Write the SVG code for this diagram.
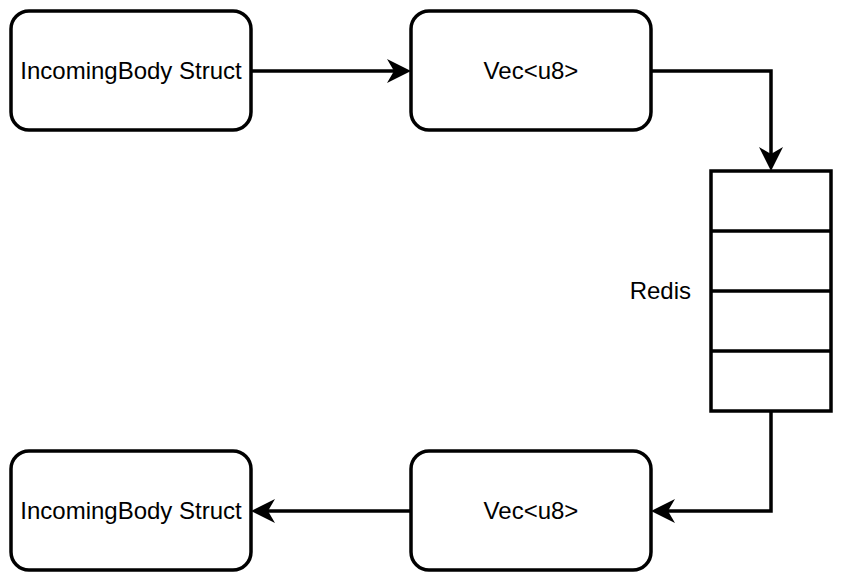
<svg xmlns="http://www.w3.org/2000/svg" width="842" height="580" viewBox="0 0 842 580">
<style>
.box{fill:#fff;stroke:#000;stroke-width:3.5}
.lbl{font-family:"Liberation Sans",Arial,Helvetica,sans-serif;font-size:24px;fill:#000}
.edge{fill:none;stroke:#000;stroke-width:3.5}
</style>
<defs>
<marker id="arr" markerUnits="userSpaceOnUse" viewBox="-25 -13 27 26" markerWidth="27" markerHeight="26" refX="-17" refY="0" orient="auto">
<path d="M0,0 L-24,-12 L-17,0 L-24,12 Z" fill="#000"/>
</marker>
</defs>
<rect width="842" height="580" fill="#fff"/>
<g id="connectors">
<path class="edge" d="M251,71 H394" marker-end="url(#arr)"/>
<path class="edge" d="M651,71 H771 V154" marker-end="url(#arr)"/>
<path class="edge" d="M771,411 V511 H668" marker-end="url(#arr)"/>
<path class="edge" d="M411,511 H268" marker-end="url(#arr)"/>
</g>
<g id="node-struct-in">
<rect class="box" x="11" y="11" width="240" height="119" rx="18"/>
<text class="lbl" x="131" y="79" text-anchor="middle">IncomingBody Struct</text>
</g>
<g id="node-vec-in">
<rect class="box" x="411" y="11" width="240" height="119" rx="18"/>
<text class="lbl" x="531" y="79" text-anchor="middle">Vec&lt;u8&gt;</text>
</g>
<g id="node-redis">
<rect class="box" x="711" y="171" width="120" height="240"/>
<line class="edge" x1="711" y1="231" x2="831" y2="231"/>
<line class="edge" x1="711" y1="291" x2="831" y2="291"/>
<line class="edge" x1="711" y1="351" x2="831" y2="351"/>
<text class="lbl" x="691" y="299" text-anchor="end">Redis</text>
</g>
<g id="node-vec-out">
<rect class="box" x="411" y="451" width="240" height="119" rx="18"/>
<text class="lbl" x="531" y="519" text-anchor="middle">Vec&lt;u8&gt;</text>
</g>
<g id="node-struct-out">
<rect class="box" x="11" y="451" width="240" height="119" rx="18"/>
<text class="lbl" x="131" y="519" text-anchor="middle">IncomingBody Struct</text>
</g>
</svg>
